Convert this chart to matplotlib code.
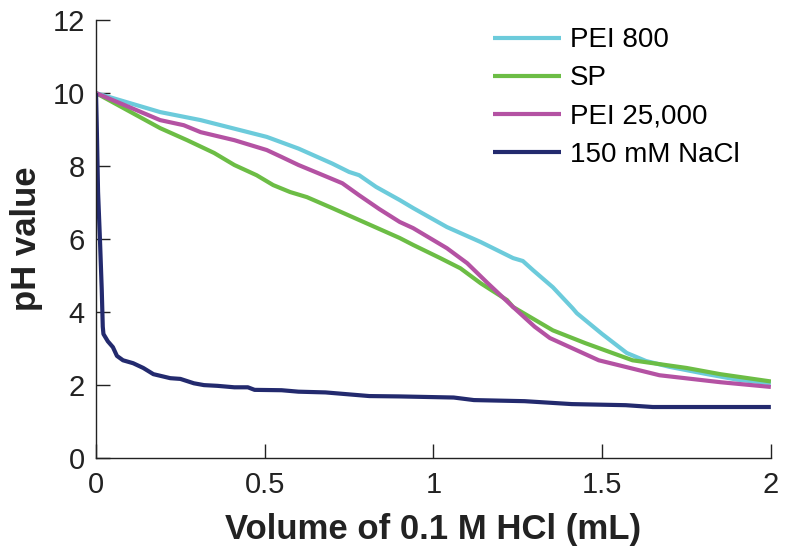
import matplotlib
matplotlib.use("Agg")
import matplotlib.pyplot as plt

plt.rcParams['font.family'] = ['Liberation Sans', 'DejaVu Sans']

# PEI 800
pei800_x = [0, 0.19, 0.31, 0.506, 0.6, 0.70, 0.75, 0.78, 0.83, 0.90, 0.94, 1.04, 1.14, 1.236, 1.265, 1.295, 1.354, 1.413, 1.425, 1.50, 1.573, 1.63, 1.70, 1.80, 1.90, 2.0]
pei800_y = [10, 9.48, 9.26, 8.8, 8.48, 8.07, 7.84, 7.75, 7.43, 7.07, 6.85, 6.33, 5.92, 5.48, 5.40, 5.15, 4.68, 4.10, 3.97, 3.40, 2.88, 2.66, 2.5, 2.32, 2.15, 2.05]

# SP
sp_x = [0, 0.19, 0.27, 0.35, 0.41, 0.476, 0.525, 0.575, 0.625, 0.70, 0.80, 0.90, 0.94, 1.02, 1.08, 1.14, 1.218, 1.236, 1.354, 1.45, 1.59, 1.75, 1.85, 2.0]
sp_y = [10, 9.04, 8.71, 8.36, 8.03, 7.75, 7.48, 7.29, 7.15, 6.85, 6.44, 6.03, 5.84, 5.48, 5.2, 4.79, 4.33, 4.14, 3.5, 3.15, 2.68, 2.47, 2.3, 2.1]

# PEI 25,000
pei25k_x = [0, 0.19, 0.26, 0.31, 0.41, 0.506, 0.55, 0.60, 0.66, 0.73, 0.78, 0.84, 0.90, 0.94, 1.04, 1.10, 1.16, 1.236, 1.30, 1.345, 1.49, 1.67, 1.85, 2.0]
pei25k_y = [10, 9.26, 9.12, 8.93, 8.71, 8.44, 8.25, 8.03, 7.8, 7.53, 7.2, 6.82, 6.47, 6.3, 5.75, 5.34, 4.8, 4.14, 3.6, 3.29, 2.68, 2.27, 2.08, 1.95]

# 150 mM NaCl
nacl_x = [0, 0.002, 0.006, 0.012, 0.017, 0.020, 0.022, 0.035, 0.05, 0.062, 0.08, 0.11, 0.14, 0.17, 0.22, 0.25, 0.29, 0.32, 0.36, 0.41, 0.45, 0.47, 0.55, 0.60, 0.68, 0.81, 0.90, 1.06, 1.12, 1.27, 1.41, 1.57, 1.65, 2.0]
nacl_y = [10, 9.2, 7.3, 5.9, 4.6, 3.6, 3.4, 3.2, 3.04, 2.8, 2.68, 2.6, 2.47, 2.3, 2.19, 2.17, 2.05, 2.0, 1.98, 1.94, 1.94, 1.87, 1.86, 1.82, 1.8, 1.70, 1.69, 1.66, 1.59, 1.56, 1.48, 1.45, 1.40, 1.40]

labels = ["PEI 800", "SP", "PEI 25,000", "150 mM NaCl"]
colors = ["#6ccbdb", "#6cbd45", "#b452a3", "#232a6e"]
xticks = [0, 0.5, 1, 1.5, 2]
xticklabels = ["0", "0.5", "1", "1.5", "2"]
yticks = [0, 2, 4, 6, 8, 10, 12]

fig = plt.figure(figsize=(7.89, 5.58), dpi=100)
ax = fig.add_axes([0.1217, 0.179, 0.8553, 0.785])

series = [(pei800_x, pei800_y), (sp_x, sp_y), (pei25k_x, pei25k_y), (nacl_x, nacl_y)]
for (xs, ys), lab, c in zip(series, labels, colors):
    ax.plot(xs, ys, color=c, lw=3, label=lab, solid_capstyle='butt')

ax.set_xlim(0, 2)
ax.set_ylim(0, 12)
ax.set_xticks(xticks)
ax.set_xticklabels(xticklabels)
ax.set_yticks(yticks)
ax.spines['top'].set_visible(False)
ax.spines['right'].set_visible(False)
ax.tick_params(direction='in', length=10, width=1, labelsize=21, colors='#222222')
ax.tick_params(axis='x', pad=9)
ax.tick_params(axis='y', pad=8)
for s in ax.spines.values():
    s.set_linewidth(1)
    s.set_color('#222222')

ax.set_xlabel("Volume of 0.1 M HCl (mL)", fontsize=25, fontweight='bold', labelpad=10, color='#222222')
ax.set_ylabel("pH value", fontsize=25, fontweight='bold', labelpad=7, color='#222222')

ax.legend(loc='upper left', bbox_to_anchor=(0.572, 1.009), frameon=False, fontsize=20,
          handlelength=2.45, handletextpad=0.3, labelspacing=0.44, borderaxespad=0)

fig.savefig("out.png", dpi=100)
